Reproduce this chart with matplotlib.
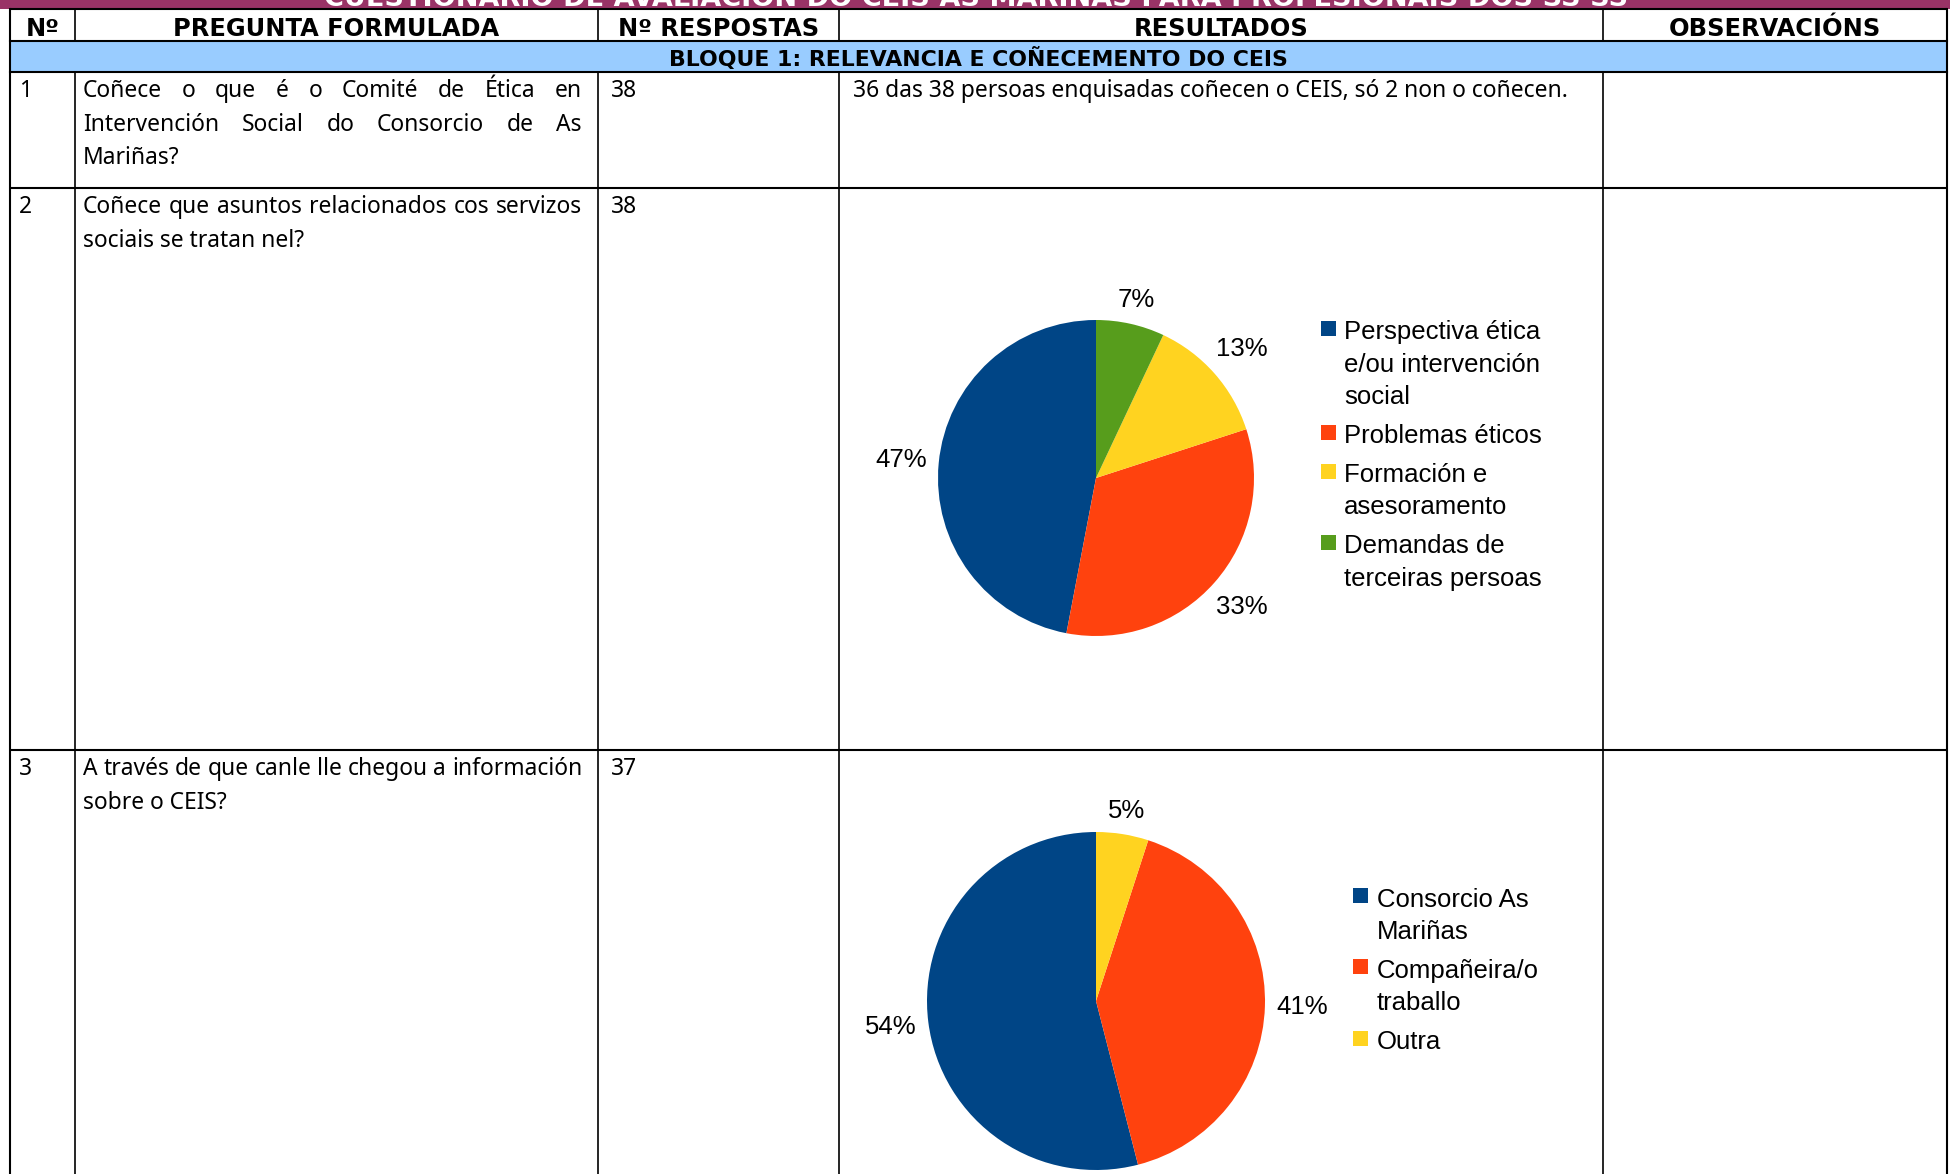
import math
import matplotlib
matplotlib.use("Agg")
import matplotlib.pyplot as plt
from matplotlib.patches import Rectangle

# ---------------- data ----------------
title = "CUESTIONARIO DE AVALIACIÓN DO CEIS AS MARIÑAS PARA PROFESIONAIS DOS SS SS"
headers = ["Nº", "PREGUNTA FORMULADA", "Nº RESPOSTAS", "RESULTADOS", "OBSERVACIÓNS"]
block_title = "BLOQUE 1: RELEVANCIA E COÑECEMENTO DO CEIS"
question_numbers = ["1", "2", "3"]
question_lines = [
    ["Coñece o que é o Comité de Ética en", "Intervención Social do Consorcio de As", "Mariñas?"],
    ["Coñece que asuntos relacionados cos servizos", "sociais se tratan nel?"],
    ["A través de que canle lle chegou a información", "sobre o CEIS?"],
]
responses = ["38", "38", "37"]
result_text_q1 = "36 das 38 persoas enquisadas coñecen o CEIS, só 2 non o coñecen."

q2_labels = ["Perspectiva ética\ne/ou intervención\nsocial", "Problemas éticos",
             "Formación e\nasesoramento", "Demandas de\nterceiras persoas"]
q2_values = [47, 33, 13, 7]
q3_labels = ["Consorcio As\nMariñas", "Compañeira/o\ntraballo", "Outra"]
q3_values = [54, 41, 5]

# ---------------- style ----------------
W, H, DPI = 1950, 1174, 100
pie_colors = ["#004586", "#ff420e", "#ffd320", "#579d1c"]
purple = "#993366"
band_blue = "#99ccff"
BODY_FONT = ["Noto Sans", "DejaVu Sans"]
BOLD_FONT = ["DejaVu Sans"]
CHART_FONT = ["Liberation Sans", "DejaVu Sans"]

col_x = [10, 75, 598, 839, 1603, 1947]
y_header_top, y_header_bot = 9, 41
y_band_bot = 72
row_tops = [72, 188, 750]
row_bottom = 1174

fig = plt.figure(figsize=(W / DPI, H / DPI), dpi=DPI)
fig.patch.set_facecolor("white")
ax = fig.add_axes([0, 0, 1, 1])
ax.set_xlim(0, W)
ax.set_ylim(H, 0)
ax.axis("off")
renderer = fig.canvas.get_renderer()


def text_width(s, size, weight="normal", family=BODY_FONT):
    t = ax.text(0, 0, s, fontsize=size, fontweight=weight, family=family)
    w = t.get_window_extent(renderer).width
    t.remove()
    return w


def fit_size(s, target, weight="normal", family=BODY_FONT):
    return 20 * target / text_width(s, 20, weight, family)


# purple title strip (title mostly cut off at top)
ax.add_patch(Rectangle((0, 0), W, y_header_top, facecolor=purple, edgecolor="none", zorder=0))
tsize = fit_size(title, 1300, "bold", BOLD_FONT)
ax.text(976, 6, title, fontsize=tsize, fontweight="bold", family=BOLD_FONT,
        color="white", ha="center", va="baseline", zorder=1)

# blue band
ax.add_patch(Rectangle((col_x[0], y_header_bot), col_x[-1] - col_x[0], y_band_bot - y_header_bot,
                       facecolor=band_blue, edgecolor="none", zorder=0))

LWH, LWV = 1.5, 1.2
for y in [y_header_top, y_header_bot, y_band_bot] + row_tops[1:]:
    ax.plot([col_x[0], col_x[-1]], [y, y], color="black", lw=LWH, solid_capstyle="butt", zorder=3)
for i, x in enumerate(col_x):
    lw = LWH if i in (0, len(col_x) - 1) else LWV
    ax.plot([x, x], [y_header_top, y_header_bot], color="black", lw=lw, zorder=3)
    ax.plot([x, x], [y_band_bot, row_bottom], color="black", lw=lw, zorder=3)
ax.plot([col_x[0], col_x[0]], [y_header_bot, y_band_bot], color="black", lw=LWH, zorder=3)
ax.plot([col_x[-1], col_x[-1]], [y_header_bot, y_band_bot], color="black", lw=LWH, zorder=3)

# header texts
hsize = fit_size("PREGUNTA FORMULADA", 325, "bold", BOLD_FONT)
for i, htxt in enumerate(headers):
    cx = (col_x[i] + col_x[i + 1]) / 2
    ax.text(cx, 36.5, htxt, fontsize=hsize, fontweight="bold", family=BOLD_FONT,
            ha="center", va="baseline", zorder=4)

bsize = fit_size(block_title, 616, "bold", BOLD_FONT)
ax.text((col_x[0] + col_x[-1]) / 2, 66, block_title, fontsize=bsize, fontweight="bold",
        family=BOLD_FONT, ha="center", va="baseline", zorder=4)

# body text size
body = fit_size(result_text_q1, 720)
text_left, text_right = 83, 582
for lines in question_lines:
    for ln in lines[:-1]:
        natural = text_width(ln, body)
        if natural > (text_right - text_left):
            body = min(body, body * (text_right - text_left) / natural)

line_gap = 33.6
first_base = 25
for r, top in enumerate(row_tops):
    base = top + first_base
    ax.text(19, base, question_numbers[r], fontsize=body, family=BODY_FONT, ha="left", va="baseline")
    ax.text(611, base, responses[r], fontsize=body, family=BODY_FONT, ha="left", va="baseline")
    lines = question_lines[r]
    for k, ln in enumerate(lines):
        y = base + k * line_gap
        if k < len(lines) - 1:
            words = ln.split(" ")
            ws = [text_width(w, body) for w in words]
            gap = (text_right - text_left - sum(ws)) / (len(words) - 1)
            x = text_left
            for w, wd in zip(words, ws):
                ax.text(x, y, w, fontsize=body, family=BODY_FONT, ha="left", va="baseline")
                x += wd + gap
        else:
            ax.text(text_left, y, ln, fontsize=body, family=BODY_FONT, ha="left", va="baseline")

ax.text(853, row_tops[0] + first_base, result_text_q1, fontsize=body, family=BODY_FONT,
        ha="left", va="baseline")

# ---------------- pies ----------------
CHART_SIZE = 18.5
LIM = 1.4
LABEL_GAP = 11.0   # px between circle and label box
LABEL_HALF_H = 10.0


def add_pie(values, cx, cy, r):
    s = 2 * r * LIM
    pax = fig.add_axes([(cx - s / 2) / W, 1 - (cy + s / 2) / H, s / W, s / H])
    wedges, _, autotexts = pax.pie(
        values, colors=pie_colors[:len(values)], startangle=90, counterclock=True,
        autopct=lambda p: f"{p:.0f}%", pctdistance=1.2, radius=1,
        wedgeprops=dict(linewidth=0),
        textprops=dict(fontsize=CHART_SIZE, family=CHART_FONT, color="black"))
    pax.set_xlim(-LIM, LIM)
    pax.set_ylim(-LIM, LIM)
    pax.set_aspect("equal")
    pax.axis("off")
    # place each label just outside the circle, box-aware (as the office chart does)
    for wdg, at in zip(wedges, autotexts):
        mid = math.radians((wdg.theta1 + wdg.theta2) / 2)
        hw = at.get_window_extent(renderer).width / 2
        off = LABEL_GAP + abs(math.cos(mid)) * hw + abs(math.sin(mid)) * LABEL_HALF_H
        d = 1 + off / r
        at.set_position((d * math.cos(mid), d * math.sin(mid)))
    return pax


def add_legend(labels, sq_x, txt_x, first_base, lsp=32.3, egap=39):
    y = first_base
    for i, lab in enumerate(labels):
        parts = lab.split("\n")
        ax.add_patch(Rectangle((sq_x, y - 18.5), 15, 15, facecolor=pie_colors[i],
                               edgecolor="none", zorder=5))
        for k, p in enumerate(parts):
            ax.text(txt_x, y + k * lsp, p, fontsize=CHART_SIZE, family=CHART_FONT,
                    ha="left", va="baseline", zorder=5)
        y += (len(parts) - 1) * lsp + egap


add_pie(q2_values, 1096, 478, 158)
add_legend(q2_labels, 1321, 1344, 339.5)
add_pie(q3_values, 1096, 1001, 169)
add_legend(q3_labels, 1353, 1377, 906.6)

fig.savefig("out.png", dpi=DPI, facecolor="white")
